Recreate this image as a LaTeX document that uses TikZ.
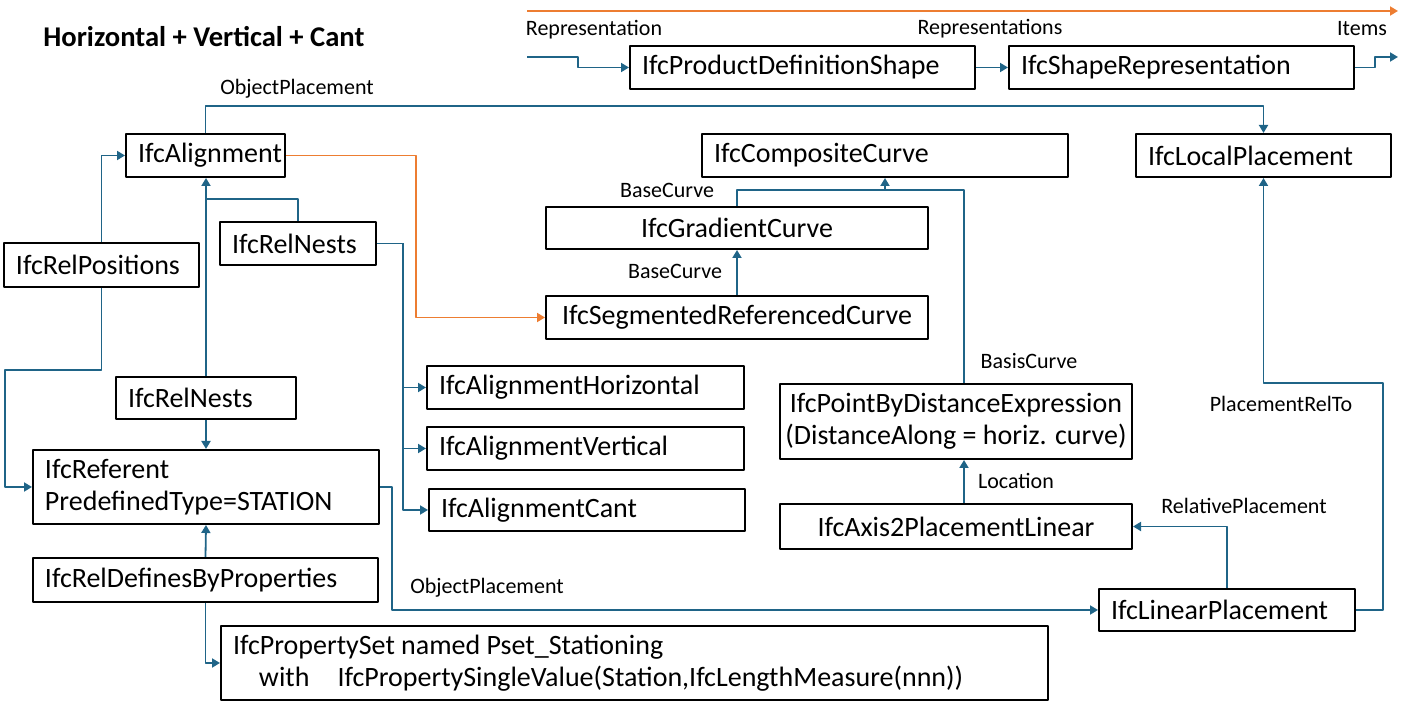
\documentclass[tikz,border=0pt]{standalone}
\usepackage{fontspec}
\setmainfont{Carlito}
\usetikzlibrary{arrows.meta,calc}
\definecolor{ifcblue}{HTML}{1F6487}
\definecolor{ifcorange}{HTML}{ED7D31}
\hyphenpenalty=10000
\exhyphenpenalty=10000
\begin{document}
\begin{tikzpicture}[x=0.5pt, y=-0.5pt, line join=round, >={Triangle[length=4pt,width=4.5pt]},
	box/.style={draw, line width=1pt, anchor=north west, inner xsep=6pt, inner ysep=0pt, align=flush left, font=\fontsize{14}{16}\selectfont},
	cbox/.style={box, align=flush center},
	link/.style={ifcblue, line width=0.9pt, ->},
	olink/.style={ifcorange, line width=0.9pt, ->},
	role/.style={font=\fontsize{11}{13}\selectfont}]
	\useasboundingbox (0,0) rectangle (1405,715);
	\node[anchor=west, inner sep=0pt, font=\bfseries\fontsize{14.3}{16}\selectfont] (title) at (43,37) {Horizontal + Vertical + Cant};
	\node[box, text width=160.5pt, minimum height=21.5pt] (pds) at (629,45) {IfcProductDefinitionShape};
	\node[box, text width=160.5pt, minimum height=21.5pt] (shrep) at (1008,45) {IfcShapeRepresentation};
	\node[box, text width=67.5pt, minimum height=21.5pt] (align) at (125,133) {IfcAlignment};
	\node[box, text width=171pt, minimum height=21.5pt] (comp) at (701,133) {IfcCompositeCurve};
	\node[box, text width=115.5pt, minimum height=21.5pt] (local) at (1135,133) {IfcLocalPlacement};
	\node[cbox, minimum width=191pt, minimum height=21pt] (grad) at (545,206) {IfcGradientCurve};
	\node[box, text width=85.5pt, minimum height=22pt] (relpos) at (3,242) {IfcRelPositions};
	\node[box, text width=66pt, minimum height=21.5pt] (nestA) at (219,221) {IfcRelNests};
	\node[cbox, minimum width=191pt, minimum height=21.5pt] (segref) at (545,295) {IfcSegmentedReferencedCurve};
	\node[box, text width=146.5pt, minimum height=21.5pt] (horiz) at (426,365) {IfcAlignmentHorizontal};
	\node[box, text width=146.5pt, minimum height=21.5pt] (vert) at (426,426) {IfcAlignmentVertical};
	\node[box, text width=146pt, minimum height=21pt] (cant) at (428,488) {IfcAlignmentCant};
	\node[box, text width=78pt, minimum height=21pt] (nestB) at (115,376) {IfcRelNests};
	\node[cbox, inner xsep=1pt, minimum width=176pt, minimum height=37.5pt] (pbde) at (779,383) {IfcPointByDistanceExpression\\(DistanceAlong = horiz. curve)};
	\node[box, text width=161pt, minimum height=37pt] (referent) at (32,449) {IfcReferent\\PredefinedType=STATION};
	\node[cbox, minimum width=176pt, minimum height=22.5pt] (axis) at (779,503) {IfcAxis2PlacementLinear};
	\node[box, text width=160.5pt, minimum height=22pt] (defprop) at (32,557) {IfcRelDefinesByProperties};
	\node[box, text width=116pt, minimum height=21pt] (linpl) at (1098,588) {IfcLinearPlacement};
	\node[box, text width=401.5pt, minimum height=37pt] (pset) at (220,625) {IfcPropertySet named Pset\_Stationing\\\hspace*{13pt}with\hspace{14pt}IfcPropertySingleValue(Station,IfcLengthMeasure(nnn))};
	\coordinate (o1) at (527,11);
	\coordinate (o2) at (1398,11);
	\coordinate (in) at (527,57);
	\coordinate (out) at (1398,57);
	\draw[olink] (o1) -- (o2);
	\draw[link] (in) -- ++(51,0) |- (pds.west);
	\draw[link] (pds.east) -- (shrep.west);
	\draw[link] (shrep.east) -- ++(20,0) |- (out);
	\draw[link] (align.north) -- ++(0,-27) -| (local.north);
	\draw[link] (relpos.north) |- (align.west);
	\draw[link] (relpos.south) -- ++(0,82) -| ([xshift=-13.5pt]referent.west) -- (referent.west);
	\draw[link] (nestB.north) -- (nestB.north |- align.south);
	\draw[link, -] (nestA.north) -- ++(0,-22) coordinate (j1) -- (j1 -| align.south);
	\draw[link] (nestB.south) -- (referent.north);
	\draw[link] (defprop.north) -- (referent.south);
	\draw[link] (defprop.south) |- (pset.west);
	\draw[link, -] (nestA.east) -- ++(26,0) coordinate (j2);
	\foreach \n in {horiz,vert,cant} \draw[link] (j2) |- (\n.west);
	\draw[link] (referent.east) -- ++(12,0) |- (linpl.west);
	\draw[link] (linpl.north) |- (axis.east);
	\draw[link] (linpl.east) -- ++(27,0) |- ($(local.south)+(0,205)$) -- (local.south);
	\coordinate (j3) at ([xshift=4pt]axis.north);
	\draw[link] (j3) -- (j3 |- pbde.south);
	\draw[link, -] (j3 |- pbde.north) -- ++(0,-193) coordinate (j4) -| (grad.north);
	\draw[link] (comp.south |- j4) -- (comp.south);
	\draw[link] (segref.north) -- (grad.south);
	\draw[olink] (align.east) -- ++(130,0) |- (segref.west);
	\node[role] (lrep) at (594,30) {Representation};
	\node[role] (lreps) at (990,29) {Representations};
	\node[role] (litems) at (1362,29) {Items};
	\node[role] (lobjA) at (297,89) {ObjectPlacement};
	\node[role] (lobjB) at (487,588) {ObjectPlacement};
	\node[role] (lbaseA) at (667,190) {BaseCurve};
	\node[role] (lbaseB) at (675,271) {BaseCurve};
	\node[role] (lbasis) at (1029,361) {BasisCurve};
	\node[role] (lloc) at (1016,481) {Location};
	\node[role] (lrel) at (1244,506) {RelativePlacement};
	\node[role] (lrelto) at (1281,404) {PlacementRelTo};
\end{tikzpicture}
\end{document}
